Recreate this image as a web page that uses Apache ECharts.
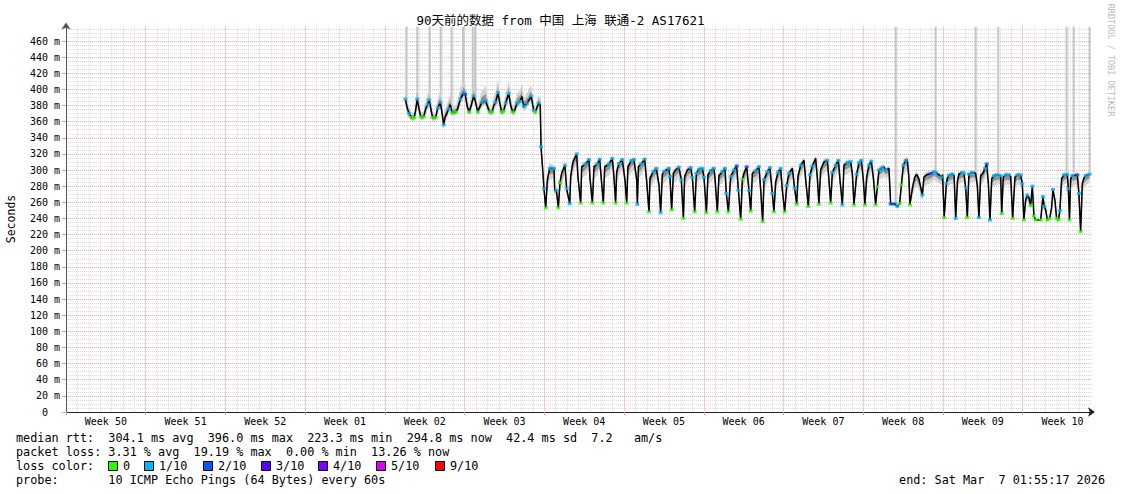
<!DOCTYPE html>
<html><head><meta charset="utf-8">
<script src="https://cdn.jsdelivr.net/npm/echarts@6/dist/echarts.min.js"></script>
<style>html,body{margin:0;padding:0;background:#fff}#c{width:1121px;height:494px}</style>
</head><body><div id="c"></div>
<script>
// time axis: days since Monday of Week 50; each point [day, median ms, smoke up, smoke down, loss code]
const weekLabels = ['Week 50','Week 51','Week 52','Week 01','Week 02','Week 03','Week 04','Week 05','Week 06','Week 07','Week 08','Week 09','Week 10'];
const lossColors = ['#26ff00','#00b8ff','#0059ff','#5e00ff','#7e00ff','#dd00ff','#ff0000'];
const lossLabels = ['0','1/10','2/10','3/10','4/10','5/10','9/10'];

const wk02 = [[29.80,388,12,6,2],[29.96,377,10,6,0],[30.13,370,8,5,2],[30.35,365,6,4,1],[30.57,365,6,4,1],[30.70,374,10,6,0],[30.84,388,14,6,2],[30.97,378,10,6,0],[31.14,366,6,4,1],[31.41,366,6,4,1],[31.58,376,10,6,0],[31.76,381,12,6,2],[31.89,387,14,6,2],[32.06,374,10,6,0],[32.20,365,6,4,1],[32.46,365,6,4,1],[32.64,377,10,6,2],[32.87,384,14,6,2],[33.03,370,10,6,0],[33.16,356,6,4,2],[33.29,366,10,6,0],[33.43,370,10,6,0],[33.60,376,12,6,2],[33.75,381,14,6,0],[33.89,371,8,4,1],[34.22,372,8,4,1],[34.39,376,10,6,0],[34.63,388,14,6,2],[34.92,396,14,6,2]];
const wk03 = [[35.05,394,12,6,3],[35.23,379,10,6,0],[35.40,372,6,4,1],[35.58,380,10,6,0],[35.80,392,14,6,2],[35.97,384,12,6,0],[36.15,372,6,4,1],[36.32,378,10,6,0],[36.52,384,14,6,2],[36.85,386,18,6,2],[37.03,378,10,6,0],[37.20,372,6,4,1],[37.42,372,6,4,1],[37.55,380,10,6,0],[37.73,384,14,6,2],[37.93,396,14,6,2],[38.08,384,10,6,0],[38.25,372,6,4,1],[38.43,373,8,4,1],[38.61,383,12,6,2],[38.87,395,14,6,2],[39.05,380,10,6,0],[39.22,372,6,4,1],[39.40,374,10,6,0],[39.60,383,12,6,2],[39.84,385,14,6,2],[40.04,391,14,6,0],[40.19,379,10,6,2],[40.48,383,12,6,2],[40.71,388,14,6,0],[40.85,392,12,6,2],[41.06,374,8,4,2],[41.21,372,6,4,1],[41.50,383,10,6,2],[41.64,381,8,4,0],[41.71,329,4,4,2],[41.83,306,2,4,0],[41.97,277,2,4,2]];
const wk04 = [[42.12,253,0,0,1],[42.27,288,4,10,0],[42.47,302,6,14,2],[42.85,302,4,12,2],[42.91,275,2,6,0],[43.06,275,2,4,2],[43.23,253,0,0,1],[43.37,284,4,10,1],[43.52,296,4,14,0],[43.81,306,4,12,2],[43.96,277,2,6,2],[44.23,258,0,0,2],[44.31,292,4,12,0],[44.51,310,4,14,0],[44.84,320,3,12,2],[44.95,292,2,6,0],[45.19,259,0,0,1],[45.28,304,4,14,0],[45.63,307.5,4,14,2],[45.92,313,3,12,2],[46.01,290,2,6,0],[46.22,259,0,0,1],[46.36,304,4,14,0],[46.66,307.5,4,14,2],[46.86,313.5,3,12,2],[47.01,288,2,6,0],[47.18,259,0,0,1],[47.30,304,4,14,0],[47.68,307.5,4,14,2],[47.97,314.5,3,12,2],[48.11,292,2,6,0],[48.26,259,0,0,1],[48.35,298,4,14,0],[48.55,308,4,14,2],[48.85,313,3,12,2]];
const wk05 = [[49.08,288,2,6,0],[49.23,259,0,0,1],[49.34,304,4,14,0],[49.64,311.6,4,14,2],[49.87,313,3,12,2],[50.11,288,2,6,0],[50.17,257.5,0,0,2],[50.26,304,4,14,0],[50.52,307.5,4,14,2],[50.81,313.5,3,12,2],[50.99,285.6,2,6,0],[51.19,248,0,0,1],[51.28,290,4,12,0],[51.57,298,4,14,2],[51.84,302,3,12,2],[52.07,281.5,2,6,0],[52.21,247,0,0,2],[52.36,294,4,12,0],[52.50,298,4,14,2],[52.94,302,3,12,2],[53.03,292,2,8,2],[53.18,250.5,0,0,1],[53.33,296,4,12,0],[53.53,300,4,14,0],[53.82,303.5,3,12,2],[54.03,287.7,2,6,2],[54.21,240,0,0,1],[54.32,292,4,12,0],[54.56,300,4,14,0],[54.85,303,3,12,2],[55.00,291,2,6,2],[55.20,248,0,0,1],[55.35,296,4,12,2],[55.58,301,4,14,2],[55.88,302,3,12,2]];
const wk06 = [[56.02,291,2,6,2],[56.23,247,0,0,1],[56.37,294,4,12,0],[56.60,299,4,14,2],[56.89,302,3,12,2],[56.98,291,2,6,0],[57.19,248,0,0,1],[57.33,293,4,12,0],[57.63,298,4,14,2],[57.86,302,3,12,2],[57.98,271,2,4,2],[58.16,248,0,0,1],[58.36,292,4,12,2],[58.65,300,4,14,2],[58.89,305,3,12,3],[59.04,275,2,4,2],[59.24,239,0,0,1],[59.39,288.5,4,12,1],[59.53,296,4,14,0],[59.77,304,3,12,3],[59.97,275,2,4,2],[60.12,249,0,0,1],[60.27,296,4,12,0],[60.56,299,4,14,2],[60.85,304,3,12,2],[61.00,275,2,4,0],[61.17,236,0,0,1],[61.29,288,4,12,2],[61.58,298,4,14,2],[61.81,303,3,12,2],[62.02,271,2,4,2],[62.16,248,0,0,1],[62.31,285,4,12,0],[62.51,297,4,14,2],[62.75,302,3,12,2],[62.90,275,2,4,0]];
const wk07 = [[63.10,248,0,0,1],[63.28,281,4,12,2],[63.48,296,4,14,2],[63.78,302,3,12,0],[63.98,277,2,4,2],[64.16,257.5,0,0,1],[64.27,292,4,12,0],[64.51,306,4,14,2],[64.80,312,3,12,0],[64.95,288,2,6,0],[65.18,254.6,0,0,1],[65.32,294,4,12,2],[65.53,305,4,14,2],[65.82,314.5,3,12,0],[65.97,291,2,6,0],[66.11,257.5,0,0,1],[66.26,300,4,12,0],[66.55,310,4,14,0],[66.85,312,3,12,2],[66.99,288,2,6,0],[67.14,259,0,0,1],[67.29,297,4,12,2],[67.58,306,4,14,2],[67.82,312,3,12,2],[67.96,288,2,6,0],[68.17,256.7,0,0,2],[68.31,306,4,12,0],[68.61,309,4,14,2],[68.90,310.4,3,12,2],[69.05,295,2,6,0],[69.19,256.7,0,0,1],[69.42,295,4,12,2],[69.63,309,4,14,2],[69.84,312,3,12,2]];
const wk08 = [[70.01,288,2,6,0],[70.15,256.7,0,0,1],[70.30,291,4,12,0],[70.50,306,4,14,2],[70.71,311,3,12,2],[70.89,291,2,6,0],[71.09,256.7,0,0,1],[71.24,279,4,8,1],[71.38,300,4,12,2],[71.68,303,4,12,2],[71.82,304,3,12,0],[71.97,300,3,10,2],[72.26,302,3,10,0],[72.41,258,0,2,3],[72.76,258,0,2,3],[73.00,254.6,0,0,2],[73.20,258.5,0,0,1],[73.35,281.5,4,8,1],[73.52,306,4,14,2],[73.73,312,4,14,2],[73.87,313,3,12,0],[74.01,291,2,6,0],[74.10,256.7,0,0,1],[74.31,277,4,10,0],[74.52,291,4,14,0],[74.69,294.6,4,14,0],[74.89,289,3,12,0],[75.19,269,2,6,2],[75.33,291,4,12,0],[75.57,294,4,12,0],[75.92,295.5,3,12,3],[76.21,298,3,10,2],[76.36,297,3,10,2],[76.65,294,3,10,0],[76.86,291.5,3,10,2],[76.97,294,2,8,0]];
const wk09 = [[77.11,241,0,0,1],[77.30,283.5,4,10,2],[77.39,290,4,12,0],[77.53,293.5,3,12,2],[77.83,295,3,12,2],[77.98,293,2,8,0],[78.12,240,0,0,2],[78.27,285.6,4,10,0],[78.40,295,3,12,0],[78.71,297,3,12,2],[78.84,296,3,10,2],[79.00,278,2,6,2],[79.14,241,0,0,1],[79.28,295,3,12,2],[79.58,297,3,12,2],[79.87,296,3,10,0],[80.02,281,2,6,0],[80.16,241,0,0,2],[80.31,293,4,12,0],[80.51,296,4,12,0],[80.69,302,3,12,2],[80.84,307.5,3,12,3],[80.99,283.5,2,6,0],[81.13,238,0,0,2],[81.28,289,4,12,0],[81.48,293,3,12,2],[81.78,294,3,12,2],[82.07,293,3,10,2],[82.16,246,0,0,1],[82.30,291,4,12,0],[82.51,294,3,12,2],[82.80,294,3,12,2],[82.95,292,2,8,0],[83.12,240,0,0,1],[83.32,291,4,12,0],[83.56,294,3,12,2],[83.82,294,3,12,2],[83.97,283,2,6,2]];
const wk10 = [[84.11,238,0,0,1],[84.26,263,4,8,0],[84.41,269,4,8,2],[84.55,266,3,8,0],[84.70,256,2,4,1],[84.85,280,3,8,2],[84.99,243,0,0,1],[85.14,238,0,0,1],[85.58,238,0,0,1],[85.78,267,3,8,2],[85.90,255,2,6,2],[86.02,251,2,4,0],[86.17,238,0,0,1],[86.37,240,0,0,1],[86.54,253,2,6,0],[86.66,276,3,10,2],[86.84,262,2,6,0],[86.98,240,0,0,1],[87.14,238,0,0,1],[87.27,250,2,4,2],[87.42,289,4,12,0],[87.62,294,3,12,2],[87.92,294.6,3,10,2],[88.01,277,2,6,2],[88.11,238,0,0,1],[88.21,289,4,12,0],[88.36,293,3,12,2],[88.80,294,3,12,3],[88.94,271,2,6,2],[89.09,223.5,0,0,1],[89.24,283.5,4,12,0],[89.38,290,4,12,0],[89.53,293,3,12,2],[89.88,294.8,3,10,2]];

// tall grey smoke spikes: [day, from ms] reaching the top of the graph
const spikes = [[29.89,388],[30.85,388],[31.93,385],[32.90,380],[33.86,378],[34.87,394],[35.71,388],[35.93,388],[72.85,258],[76.36,297],[79.87,296],[81.86,294],[87.86,294],[88.48,293],[89.88,295]];
const spikeTop = 478;

const statsRtt = 'median rtt:  304.1 ms avg  396.0 ms max  223.3 ms min  294.8 ms now  42.4 ms sd  7.2   am/s';
const statsLoss = 'packet loss: 3.31 % avg  19.19 % max  0.00 % min  13.26 % now';
const probeText = 'probe:       10 ICMP Echo Pings (64 Bytes) every 60s';
const endText = 'end: Sat Mar  7 01:55:17 2026';
const titleText = '90天前的数据 from 中国 上海 联通-2 AS17621';

const MONO = "'DejaVu Sans Mono', 'Noto Sans CJK SC', monospace";
const nb = s => s.replace(/ /g, '\u00a0');

const all = [].concat(wk02, wk03, wk04, wk05, wk06, wk07, wk08, wk09, wk10);
const lineData = all.map(p => [p[0], p[1]]);
const markData = all.filter(p => p[4] > 0).map(p => [p[0], p[1], p[4]]);
const smokeData = [];
for (let i = 0; i < all.length - 1; i++) {
  const a = all[i], b = all[i + 1];
  smokeData.push([a[0], a[1], a[2], a[3], b[0], b[1], b[2], b[3]]);
}
const markColor = {1: lossColors[0], 2: lossColors[1], 3: lossColors[2]};

const chart = echarts.init(document.getElementById('c'), null, {renderer: 'svg', width: 1121, height: 494});

const gridLine = (color) => ({show: true, lineStyle: {color: color, width: 1, type: [1, 1]}, showMinLine: false, showMaxLine: false});
const hiddenAxisParts = {axisLine: {show: false}, axisTick: {show: false}, axisLabel: {show: false}};

const graphics = [];
graphics.push({type: 'text', x: 11, y: 219, rotation: Math.PI / 2, style: {text: 'Seconds', font: "11.5px " + MONO, fill: '#000', align: 'center', verticalAlign: 'middle'}});
graphics.push({type: 'text', x: 1111, y: 60, rotation: -Math.PI / 2, style: {text: nb('RRDTOOL / TOBI OETIKER'), font: "8.5px " + MONO, fill: '#bdbdbd', align: 'center', verticalAlign: 'middle'}});
graphics.push({type: 'text', x: 16, y: 438, style: {text: nb(statsRtt), font: "11.8px " + MONO, fill: '#000', verticalAlign: 'middle'}});
graphics.push({type: 'text', x: 16, y: 452, style: {text: nb(statsLoss), font: "11.8px " + MONO, fill: '#000', verticalAlign: 'middle'}});
graphics.push({type: 'text', x: 16, y: 466, style: {text: nb('loss color:'), font: "11.8px " + MONO, fill: '#000', verticalAlign: 'middle'}});
const swX = [108, 144, 203, 261, 318, 376, 435];
lossLabels.forEach((lab, i) => {
  graphics.push({type: 'rect', shape: {x: swX[i] + 0.5, y: 461.5, width: 9, height: 9}, style: {fill: lossColors[i], stroke: '#000', lineWidth: 1}});
  graphics.push({type: 'text', x: swX[i] + 15, y: 466, style: {text: lab, font: "11.8px " + MONO, fill: '#000', verticalAlign: 'middle'}});
});
graphics.push({type: 'text', x: 16, y: 480, style: {text: nb(probeText), font: "11.8px " + MONO, fill: '#000', verticalAlign: 'middle'}});
graphics.push({type: 'text', x: 1105, y: 480, style: {text: nb(endText), font: "11.8px " + MONO, fill: '#000', align: 'right', verticalAlign: 'middle'}});

const option = {
  animation: false,
  backgroundColor: '#fff',
  title: {text: titleText, left: 'center', top: 14, padding: 0, textStyle: {fontFamily: MONO, fontSize: 12.5, fontWeight: 'normal', color: '#000'}},
  grid: {left: 66, right: 30, top: 26.5, bottom: 82, containLabel: false},
  xAxis: [
    Object.assign({type: 'value', min: 0, max: 90, interval: 1, position: 'bottom', splitLine: gridLine('#dadada'), z: 0}, hiddenAxisParts),
    {type: 'value', min: 0, max: 90, interval: 7, position: 'bottom', z: 1,
      splitLine: gridLine('#f0a8a8'),
      axisLine: {show: true, onZero: false, lineStyle: {color: '#222', width: 1}, symbol: ['none', 'arrow'], symbolSize: [7, 7], symbolOffset: [0, 4]},
      axisTick: {show: true, length: 3, lineStyle: {color: '#e59a9a'}},
      axisLabel: {show: false}},
    {type: 'value', min: 0, max: 90, interval: 3.5, position: 'bottom', z: 1,
      axisLine: {show: false}, axisTick: {show: false}, splitLine: {show: false},
      axisLabel: {show: true, interval: 0, hideOverlap: false, showMinLabel: true, showMaxLabel: true, margin: 4,
        fontFamily: MONO, fontSize: 10, color: '#000',
        formatter: v => { const k = Math.round(v / 3.5); return (k % 2 === 1) ? weekLabels[(k - 1) / 2] : ''; }}}
  ],
  yAxis: [
    Object.assign({type: 'value', min: 0, max: 478, interval: 5, position: 'left', splitLine: gridLine('#dadada'), z: 0}, hiddenAxisParts),
    {type: 'value', min: 0, max: 478, interval: 20, position: 'left', z: 1,
      splitLine: gridLine('#f0a8a8'),
      axisLine: {show: true, onZero: false, lineStyle: {color: '#555', width: 1}, symbol: ['none', 'arrow'], symbolSize: [7, 7], symbolOffset: [0, 4]},
      axisTick: {show: true, length: 4, lineStyle: {color: '#e59a9a'}},
      axisLabel: {show: true, margin: 6, fontFamily: MONO, fontSize: 10, color: '#000', showMaxLabel: false,
        formatter: v => v === 0 ? nb('0  ') : (v % 20 === 0 ? nb(v + ' m') : '')}}
  ],
  series: [
    {type: 'custom', name: 'spikes', xAxisIndex: 1, yAxisIndex: 1, z: 1, clip: true, silent: true,
      encode: {x: 0, y: 1}, data: spikes,
      renderItem: (params, api) => {
        const p0 = api.coord([api.value(0), api.value(1)]);
        const p1 = api.coord([api.value(0), spikeTop]);
        return {type: 'line', shape: {x1: p0[0], y1: p0[1], x2: p1[0], y2: p1[1]}, style: {stroke: '#c4c4c4', lineWidth: 2}};
      }},
    {type: 'custom', name: 'smoke', xAxisIndex: 1, yAxisIndex: 1, z: 2, clip: true, silent: true,
      encode: {x: 0, y: 1}, data: smokeData,
      renderItem: (params, api) => {
        const t0 = api.value(0), v0 = api.value(1), u0 = api.value(2), d0 = api.value(3);
        const t1 = api.value(4), v1 = api.value(5), u1 = api.value(6), d1 = api.value(7);
        const off = (u, d, f) => f < 0 ? f * d : f * u;
        const bands = [[-1, -0.5, '#d2d2d2'], [-0.5, 0, '#8e8e8e'], [0, 0.5, '#8e8e8e'], [0.5, 1, '#d2d2d2']];
        return {type: 'group', children: bands.map(b => ({
          type: 'polygon',
          shape: {points: [
            api.coord([t0, v0 + off(u0, d0, b[0])]), api.coord([t1, v1 + off(u1, d1, b[0])]),
            api.coord([t1, v1 + off(u1, d1, b[1])]), api.coord([t0, v0 + off(u0, d0, b[1])])]},
          style: {fill: b[2], stroke: b[2], lineWidth: 0.3}
        }))};
      }},
    {type: 'line', name: 'median', xAxisIndex: 1, yAxisIndex: 1, z: 3, data: lineData, symbol: 'none',
      lineStyle: {color: '#000', width: 1.5}, silent: true},
    {type: 'scatter', name: 'loss', xAxisIndex: 1, yAxisIndex: 1, z: 4, data: markData, symbol: 'rect', symbolSize: [4, 3],
      encode: {x: 0, y: 1}, silent: true,
      itemStyle: {color: p => markColor[p.data[2]]}}
  ],
  graphic: graphics
};
chart.setOption(option);
</script>
</body></html>
